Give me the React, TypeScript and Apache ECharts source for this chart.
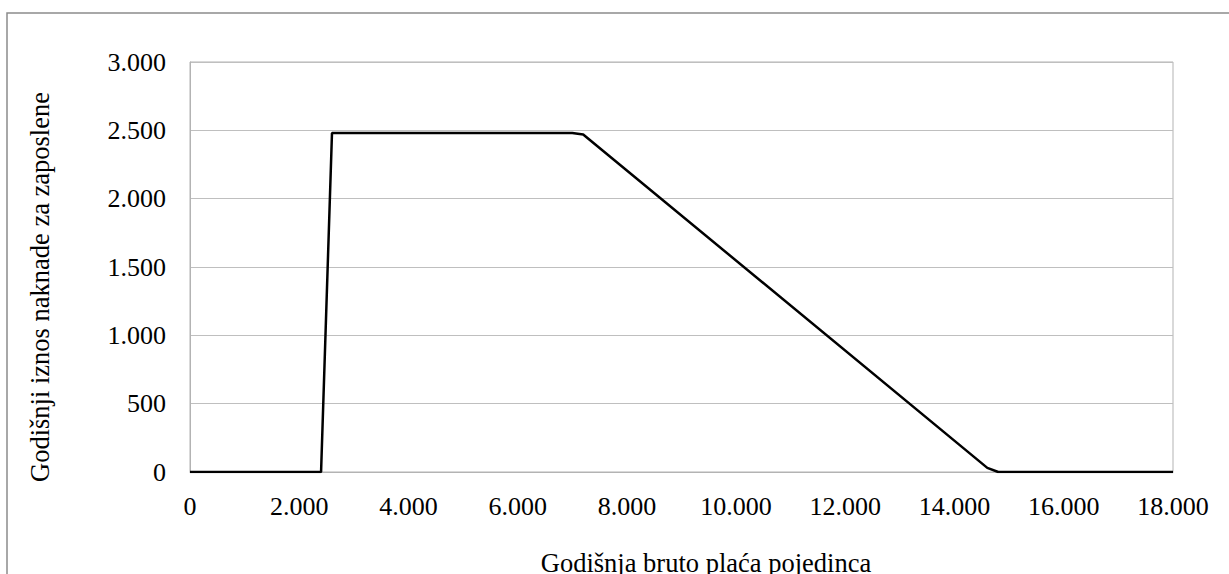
import React, { useEffect, useRef } from "react";
import * as echarts from "echarts";

const salary = [0, 2400, 2600, 7000, 7200, 14600, 14800, 18000];
const benefit = [0, 0, 2480, 2480, 2470, 30, 0, 0];
const xTicks = [0, 2000, 4000, 6000, 8000, 10000, 12000, 14000, 16000, 18000];
const yTicks = [0, 500, 1000, 1500, 2000, 2500, 3000];
const xName = "Godišnja bruto plaća pojedinca";
const yName = "Godišnji iznos naknade za zaposlene";

const fmt = (v: number) => {
  const s = String(Math.round(v));
  return s.replace(/\B(?=(\d{3})+(?!\d))/g, ".");
};

export default function App() {
  const ref = useRef<HTMLDivElement>(null);
  useEffect(() => {
    if (!ref.current) return;
    const chart = echarts.init(ref.current, undefined, { renderer: "svg" });
    const font = "Liberation Serif";
    chart.setOption({
      animation: false,
      backgroundColor: "#ffffff",
      textStyle: { fontFamily: font },
      graphic: [
        {
          type: "rect",
          shape: { x: 7, y: 13, width: 1240, height: 600 },
          style: { fill: "none", stroke: "#8c8c8c", lineWidth: 1.5 },
          silent: true,
        },
        {
          type: "text",
          x: 40,
          y: 287,
          rotation: Math.PI / 2,
          style: {
            text: yName,
            font: "26.5px 'Liberation Serif'",
            fill: "#000",
            align: "center",
            verticalAlign: "middle",
          },
          silent: true,
        },
        {
          type: "text",
          x: 706,
          y: 549,
          style: {
            text: xName,
            font: "26.5px 'Liberation Serif'",
            fill: "#000",
            align: "center",
            verticalAlign: "top",
          },
          silent: true,
        },
      ],
      grid: {
        left: 190,
        top: 62,
        right: 56,
        bottom: 102,
        show: true,
        borderColor: "#b3b3b3",
        borderWidth: 1,
      },
      xAxis: {
        type: "value",
        min: xTicks[0],
        max: xTicks[xTicks.length - 1],
        interval: 2000,
        axisLine: { show: true, lineStyle: { color: "#b3b3b3", width: 1 } },
        axisTick: { show: false },
        splitLine: { show: false },
        axisLabel: {
          fontFamily: font,
          fontSize: 26,
          color: "#000",
          margin: 21,
          formatter: (v: number) => fmt(v),
        },
      },
      yAxis: {
        type: "value",
        min: yTicks[0],
        max: yTicks[yTicks.length - 1],
        interval: 500,
        axisLine: { show: true, lineStyle: { color: "#b3b3b3", width: 1 } },
        axisTick: { show: false },
        splitLine: { show: true, lineStyle: { color: "#bfbfbf", width: 1 } },
        axisLabel: {
          fontFamily: font,
          fontSize: 26,
          color: "#000",
          margin: 24,
          formatter: (v: number) => fmt(v),
        },
      },
      series: [
        {
          type: "line",
          data: salary.map((x, i) => [x, benefit[i]]),
          symbol: "none",
          lineStyle: { color: "#000", width: 2.5 },
        },
      ],
    });
    return () => chart.dispose();
  }, []);
  return <div ref={ref} style={{ width: 1229, height: 574, position: "absolute", left: 0, top: 0 }} />;
}
